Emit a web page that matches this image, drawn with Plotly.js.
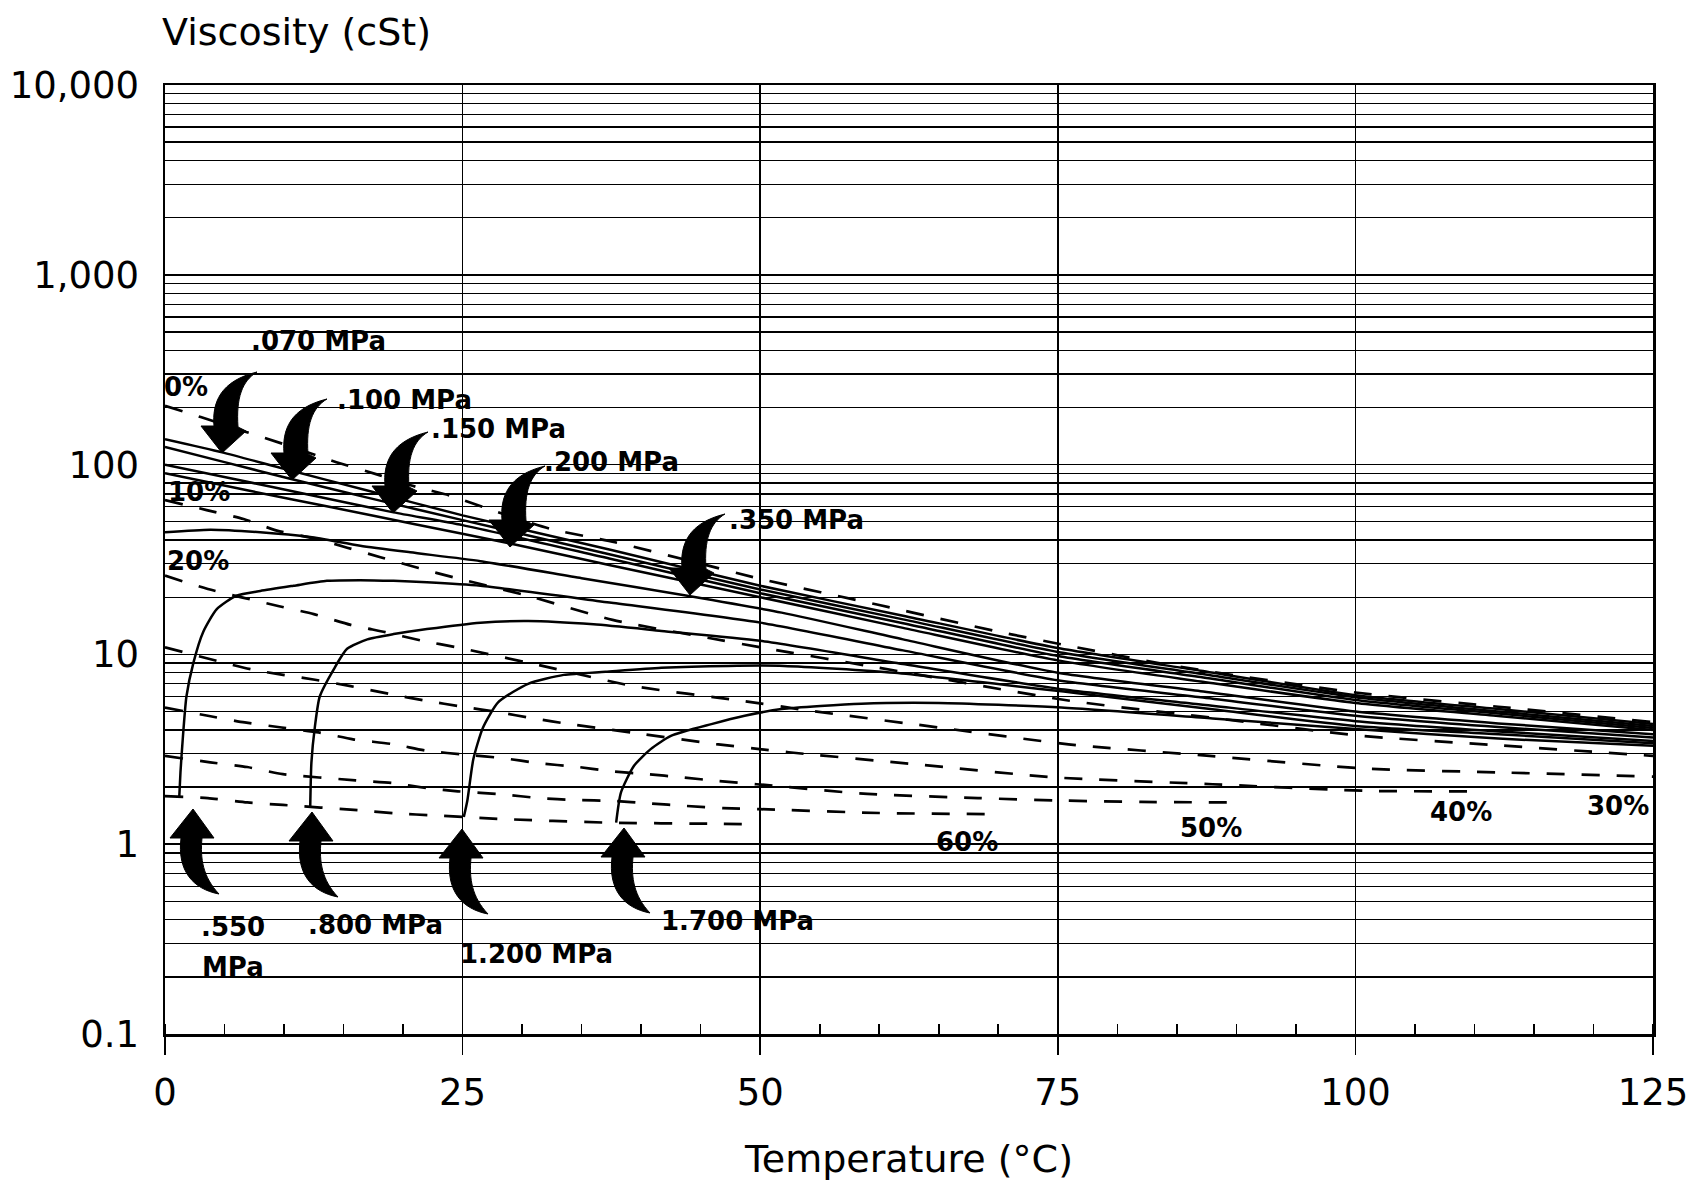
<!DOCTYPE html>
<html>
<head>
<meta charset="utf-8">
<script src="https://cdn.plot.ly/plotly-3.0.1.min.js"></script>
<style>html,body{margin:0;padding:0;background:#fff;}#chart{width:1694px;height:1181px;}</style>
</head>
<body>
<div id="chart"></div>
<script>
// ---------------- DATA (temperature in °C, viscosity in cSt) ----------------
// Dashed lines: constant concentration
const conc0T  = [0, 3, 6.75, 10, 14.4, 18, 21.2, 24, 27.3, 32.4, 37.8, 44, 50, 60, 69.7, 75.3, 84.8, 100, 112, 125];
const conc0V  = [204, 178, 149, 128, 103, 88, 76, 68.5, 58, 45.8, 39, 31.2, 25, 18.2, 13.3, 11.3, 8.7, 6.3, 5.3, 4.4];
const conc10T = [0, 3.5, 6.6, 9.4, 12.8, 15.3, 18.1, 21.3, 24.2, 30.3, 37.6, 45.7, 50, 60, 76, 88, 100.6, 112, 125];
const conc10V = [65, 57.6, 51.7, 44.9, 40.5, 36.5, 32.5, 28.5, 25.5, 20.5, 15.2, 12.2, 10.9, 8.5, 5.7, 4.63, 3.72, 3.32, 2.92];
const conc20T = [0, 3.6, 9.5, 12.5, 15.6, 18.5, 21.6, 24.5, 31, 39.4, 48.4, 54.3, 65, 75.9, 88, 101, 112, 125];
const conc20V = [26, 22.1, 18, 16.3, 14.3, 13.1, 11.8, 10.9, 8.9, 6.8, 5.7, 5.04, 4.12, 3.36, 2.91, 2.5, 2.39, 2.27];
const conc30T = [0, 7.4, 12.6, 15.6, 18.8, 21.9, 25, 27.9, 31, 33.9, 40.2, 46.3, 49.4, 52.4, 63, 74.7, 88, 101, 110];
const conc30V = [10.9, 8.3, 7.35, 6.8, 6.2, 5.7, 5.3, 4.97, 4.6, 4.3, 3.8, 3.37, 3.2, 3.05, 2.64, 2.25, 2.07, 1.91, 1.9];
const conc40T = [0, 3.6, 6.7, 9.8, 12.9, 15.8, 19.1, 22.1, 25.3, 28.4, 31.4, 34.5, 37.3, 40.4, 43.5, 46.5, 49.7, 59, 68.3, 75, 82, 90];
const conc40V = [5.25, 4.75, 4.38, 4.12, 3.88, 3.57, 3.37, 3.1, 2.96, 2.84, 2.67, 2.56, 2.43, 2.34, 2.25, 2.15, 2.07, 1.84, 1.75, 1.70, 1.67, 1.66];
const conc50T = [0, 3.8, 6.9, 9.9, 16, 19.1, 22.1, 24.6, 28.4, 31.4, 34.5, 37.6, 40.7, 43.8, 46.9, 50, 60, 70];
const conc50V = [2.92, 2.7, 2.55, 2.34, 2.17, 2.1, 1.97, 1.9, 1.83, 1.75, 1.71, 1.69, 1.64, 1.59, 1.55, 1.53, 1.46, 1.44];
const conc60T = [0, 3.6, 6.9, 9.9, 16.2, 19.6, 22.5, 28, 37, 46.6, 50];
const conc60V = [1.79, 1.75, 1.66, 1.61, 1.51, 1.45, 1.42, 1.36, 1.3, 1.28, 1.27];

// Solid lines: constant pressure
const p070T  = [0, 4.8, 10, 17, 25, 37.5, 50, 62, 75, 87, 100, 112, 125];
const p070V  = [136, 116, 95, 73, 54, 35.5, 23, 16, 10.8, 8.2, 6.1, 5.15, 4.3];
const p100T  = [0, 5, 10.6, 17, 25, 37.5, 50, 62, 75, 87, 100, 112, 125];
const p100V  = [124, 103, 84, 67, 51, 33.5, 22, 15.3, 10.3, 7.9, 5.95, 5.0, 4.2];
const p150T  = [0, 6, 12, 19.2, 25, 37.5, 50, 62, 75, 87, 100, 112, 125];
const p150V  = [100, 83.5, 69.5, 56, 48, 31.8, 21, 14.6, 9.8, 7.6, 5.75, 4.88, 4.1];
const p200T  = [0, 7, 14, 21, 28.9, 37.5, 50, 62, 75, 87, 100, 112, 125];
const p200V  = [90, 73, 59.6, 48.5, 38.5, 29.4, 20, 13.8, 9.3, 7.2, 5.55, 4.74, 4.0];
const p350T  = [0, 3.8, 8, 12.2, 16.4, 20.6, 26.5, 35, 44, 51.8, 62, 75, 87, 100, 112, 125];
const p350V  = [44, 45.4, 44, 41.5, 37.4, 34.5, 31, 25.2, 20.3, 16.6, 12.0, 8.0, 6.4, 5.0, 4.33, 3.8];
const p550T  = [1.2, 1.3, 1.45, 1.8, 2.4, 3.2, 4.35, 6, 8, 10.8, 13.6, 16.4, 19.2, 22, 26.5, 37.5, 50, 62, 75, 87, 100, 112, 125];
const p550V  = [1.78, 2.4, 3.3, 6.0, 9.1, 13.1, 17.3, 20.4, 21.6, 23, 24.4, 24.6, 24.4, 24, 23, 18.7, 14.7, 10.5, 7.3, 5.94, 4.75, 4.14, 3.65];
const p800T  = [12.2, 12.3, 12.6, 13.0, 14.2, 15.3, 17, 19.2, 22, 26.5, 30.5, 36, 41.7, 50, 62, 75, 87, 100, 112, 125];
const p800V  = [1.57, 2.7, 4.2, 6.0, 8.4, 10.7, 12, 12.8, 13.6, 14.7, 15, 14.4, 13.3, 11.8, 8.9, 6.6, 5.45, 4.45, 3.93, 3.5];
const p1200T = [25.1, 25.4, 25.9, 26.7, 28, 30.5, 33.5, 37, 41.7, 47.3, 52, 61.3, 77, 88, 100, 112, 125];
const p1200V = [1.39, 1.7, 2.8, 4.1, 5.6, 7.0, 7.8, 8.1, 8.5, 8.7, 8.7, 8.0, 6.2, 5.14, 4.2, 3.8, 3.4];
const p1700T = [37.9, 38.3, 39.4, 40.8, 42.5, 45.9, 48.7, 51.8, 58.5, 65, 75.3, 88, 100, 112, 125];
const p1700V = [1.30, 1.87, 2.59, 3.17, 3.72, 4.29, 4.75, 5.15, 5.5, 5.55, 5.25, 4.6, 4.05, 3.6, 3.3];

// Axis ticks
const xTicks = [0, 25, 50, 75, 100, 125];
const yTicks = [0.1, 1, 10, 100, 1000, 10000];
const yTickText = ['0.1', '1', '10', '100', '1,000', '10,000'];

// Labels
const pressureLabels = ['.070 MPa', '.100 MPa', '.150 MPa', '.200 MPa', '.350 MPa', '.550', 'MPa', '.800 MPa', '1.200 MPa', '1.700 MPa'];
const concLabels = ['0%', '10%', '20%', '30%', '40%', '50%', '60%'];

// ---------------- LAYOUT HELPERS ----------------
const W = 1694, H = 1181;
const M = {l: 165, r: 41, t: 85, b: 147};
const PW = W - M.l - M.r, PH = H - M.t - M.b;
const px2x = px => (px - M.l) / PW;
const px2y = py => (H - M.b - py) / PH;

const FONT = 'DejaVu Sans, Liberation Sans, Arial, sans-serif';

// label placements in page pixels (centre of text)
const pressureLabelPos = [[318, 341], [404, 400], [498, 429], [611, 462], [796, 520], [233, 927], [233, 967], [375, 925], [536, 954], [737, 921]];
const concLabelPos = [[186, 387], [199, 492], [198, 561], [1618, 806], [1461, 812], [1211, 828], [967, 842]];

// arrow tips in page pixels
const downArrowTips = [[222, 453], [292, 480], [393, 513], [510, 547], [690, 595]];
const upArrowTips = [[193, 809], [312, 812], [462, 829], [624, 828]];

const downArrowCmd = [['M',0,0],['L',-21,-27],['L',-8,-27],['C',-10,-50,-2,-72,35,-81],['C',20,-72,14,-55,16,-26],['L',24,-22],['Z']];
const upArrowCmd = [['M',0,0],['L',21,29],['L',9,29],['C',7,50,10,68,26,85],['C',0,80,-16,62,-12,29],['L',-23,29],['Z']];

function arrowPath(tip, cmds) {
  let s = '';
  for (const c of cmds) {
    s += c[0];
    for (let i = 1; i < c.length; i += 2) {
      const x = px2x(tip[0] + c[i]).toFixed(5);
      const y = px2y(tip[1] + c[i + 1]).toFixed(5);
      s += (i > 1 ? ' ' : '') + x + ',' + y;
    }
    s += ' ';
  }
  return s.trim();
}

// ---------------- TRACES ----------------
const dashedSeries = [[conc0T, conc0V, '0%'], [conc10T, conc10V, '10%'], [conc20T, conc20V, '20%'], [conc30T, conc30V, '30%'],
                      [conc40T, conc40V, '40%'], [conc50T, conc50V, '50%'], [conc60T, conc60V, '60%']];
const solidSeries = [[p070T, p070V, '.070 MPa'], [p100T, p100V, '.100 MPa'], [p150T, p150V, '.150 MPa'], [p200T, p200V, '.200 MPa'],
                     [p350T, p350V, '.350 MPa'], [p550T, p550V, '.550 MPa'], [p800T, p800V, '.800 MPa'],
                     [p1200T, p1200V, '1.200 MPa'], [p1700T, p1700V, '1.700 MPa']];

const traces = [];
dashedSeries.forEach(([x, y, n]) => traces.push({
  x, y, name: n, type: 'scatter', mode: 'lines', hoverinfo: 'skip', showlegend: false,
  line: {color: '#000', width: 2.7, dash: '18px,17px', shape: 'spline', smoothing: 0.6}
}));
solidSeries.forEach(([x, y, n]) => traces.push({
  x, y, name: n, type: 'scatter', mode: 'lines', hoverinfo: 'skip', showlegend: false,
  line: {color: '#000', width: 2.5, shape: 'spline', smoothing: 0.6}
}));

// minor log gridlines
const minorGrid = [];
for (let e = -1; e < 4; e++) for (let k = 2; k <= 9; k++) minorGrid.push(+(k * Math.pow(10, e)).toPrecision(3));

// ---------------- ANNOTATIONS & SHAPES ----------------
const annotations = [];
const lblFont = {family: FONT, size: 26, color: '#000', weight: 700};
pressureLabels.forEach((t, i) => annotations.push({
  xref: 'paper', yref: 'paper', x: px2x(pressureLabelPos[i][0]), y: px2y(pressureLabelPos[i][1]),
  xanchor: 'center', yanchor: 'middle', text: '<b>' + t + '</b>', showarrow: false, font: lblFont
}));
concLabels.forEach((t, i) => annotations.push({
  xref: 'paper', yref: 'paper', x: px2x(concLabelPos[i][0]), y: px2y(concLabelPos[i][1]),
  xanchor: 'center', yanchor: 'middle', text: '<b>' + t + '</b>', showarrow: false, font: lblFont
}));
annotations.push({
  xref: 'paper', yref: 'paper', x: px2x(160), y: px2y(32), xanchor: 'left', yanchor: 'middle',
  text: 'Viscosity (cSt)', showarrow: false, font: {family: FONT, size: 38, color: '#000'}
});

const shapes = [];
downArrowTips.forEach(t => shapes.push({type: 'path', xref: 'paper', yref: 'paper', path: arrowPath(t, downArrowCmd),
  fillcolor: '#000', line: {color: '#000', width: 1}}));
upArrowTips.forEach(t => shapes.push({type: 'path', xref: 'paper', yref: 'paper', path: arrowPath(t, upArrowCmd),
  fillcolor: '#000', line: {color: '#000', width: 1}}));

const layout = {
  width: W, height: H,
  margin: M,
  paper_bgcolor: '#fff', plot_bgcolor: '#fff',
  showlegend: false,
  font: {family: FONT, color: '#000'},
  xaxis: {
    range: [0, 125], tickmode: 'array', tickvals: xTicks, ticktext: xTicks.map(String),
    ticks: 'outside', ticklen: 18, tickwidth: 1.6, tickcolor: '#000',
    showgrid: true, gridcolor: '#000', gridwidth: 1.6,
    showline: true, linecolor: '#000', linewidth: 2.5, mirror: true, zeroline: false,
    tickfont: {family: FONT, size: 37, color: '#000'}, ticklabelstandoff: 6,
    minor: {dtick: 5, tick0: 0, ticks: 'inside', ticklen: 10, tickwidth: 1.6, tickcolor: '#000', showgrid: false},
    title: {text: 'Temperature (°C)', font: {family: FONT, size: 38, color: '#000'}, standoff: 34},
    automargin: false, fixedrange: true
  },
  yaxis: {
    type: 'log', range: [-1, 4], tickmode: 'array', tickvals: yTicks, ticktext: yTickText,
    ticks: '', showgrid: true, gridcolor: '#000', gridwidth: 1.5,
    minor: {tickmode: 'array', tickvals: minorGrid, showgrid: true, gridcolor: '#000', gridwidth: 1.3, ticks: ''},
    showline: true, linecolor: '#000', linewidth: 2.5, mirror: true, zeroline: false,
    tickfont: {family: FONT, size: 37, color: '#000'}, ticklabelstandoff: 16,
    automargin: false, fixedrange: true
  },
  annotations, shapes
};

Plotly.newPlot('chart', traces, layout, {staticPlot: true, displayModeBar: false});
</script>
</body>
</html>
